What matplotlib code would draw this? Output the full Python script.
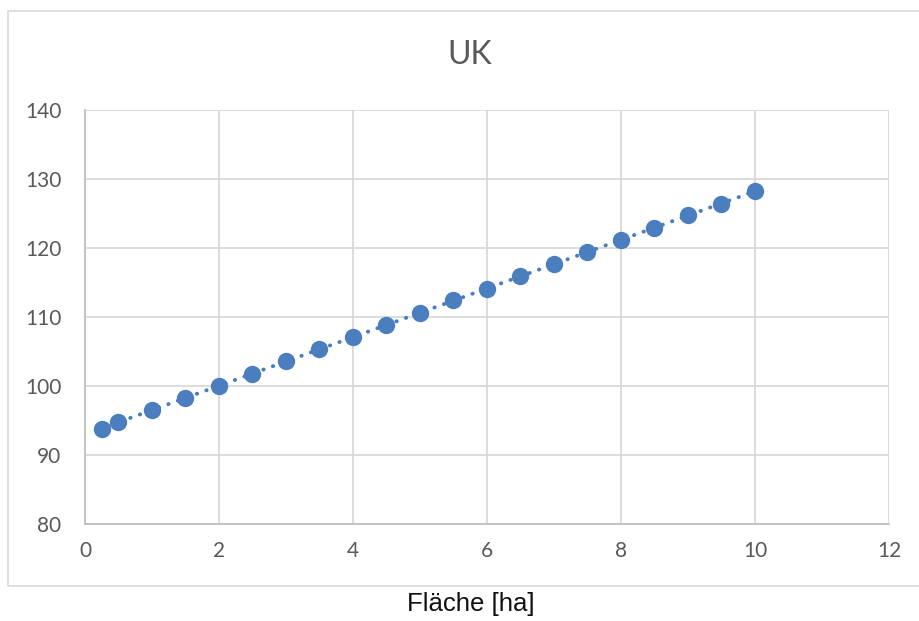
import numpy as np
import matplotlib.pyplot as plt
from matplotlib.lines import Line2D

# Data
flaeche = [0.25, 0.5, 1, 1.5, 2, 2.5, 3, 3.5, 4, 4.5, 5, 5.5, 6, 6.5, 7, 7.5, 8, 8.5, 9, 9.5, 10]
uk = [93.8, 94.8, 96.5, 98.3, 100.0, 101.7, 103.6, 105.4, 107.1, 108.8, 110.6,
      112.5, 114.1, 115.9, 117.7, 119.4, 121.2, 122.9, 124.8, 126.4, 128.2]
x_ticks = [0, 2, 4, 6, 8, 10, 12]
y_ticks = [80, 90, 100, 110, 120, 130, 140]

blue = '#4A7EBF'
grey_txt = '#595959'
grid_col = '#D9D9D9'

plt.rcParams['font.family'] = ['Lato', 'DejaVu Sans']

fig = plt.figure(figsize=(9.2, 6.21), dpi=100)
W, H = 920, 621
ax = fig.add_axes([85 / W, 1 - 524 / H, (889 - 85) / W, (524 - 110) / H])

# chart area border (Excel style), right edge runs off the picture
left, top, bottom = 8 / W, 1 - 11 / H, 1 - 586 / H
fig.lines.append(Line2D([1.01, left, left, 1.01], [top, top, bottom, bottom],
                        transform=fig.transFigure, color=grid_col, linewidth=1.2))

# linear trendline
coef = np.polyfit(flaeche, uk, 1)
xt = np.array([min(flaeche), max(flaeche)])
ax.plot(xt, np.polyval(coef, xt), color=blue, linewidth=2.8,
        linestyle=(0, (0.1, 2.5)), dash_capstyle='round', zorder=2)

ax.plot(flaeche, uk, 'o', color=blue, markersize=12.5, markeredgewidth=0, zorder=3)

ax.set_xlim(0, 12)
ax.set_ylim(80, 140)
ax.set_xticks(x_ticks)
ax.set_yticks(y_ticks)
ax.grid(True, color=grid_col, linewidth=1.3)
ax.set_axisbelow(True)
for side in ['top', 'right']:
    ax.spines[side].set_visible(False)
for side in ['left', 'bottom']:
    ax.spines[side].set_color('#BFBFBF')
    ax.spines[side].set_linewidth(1.3)
ax.tick_params(length=0, labelsize=15, colors=grey_txt, pad=12)
ax.tick_params(axis='y', pad=17)

fig.text(470 / W, 1 - 55 / H, 'UK', ha='center', va='center', fontsize=23, color=grey_txt)
fig.text(471 / W, 1 - 604 / H, 'Fläche [ha]', ha='center', va='center',
         fontsize=18.5, color='#111111', family=['Liberation Sans', 'DejaVu Sans'])

fig.savefig('out.png', dpi=100)
